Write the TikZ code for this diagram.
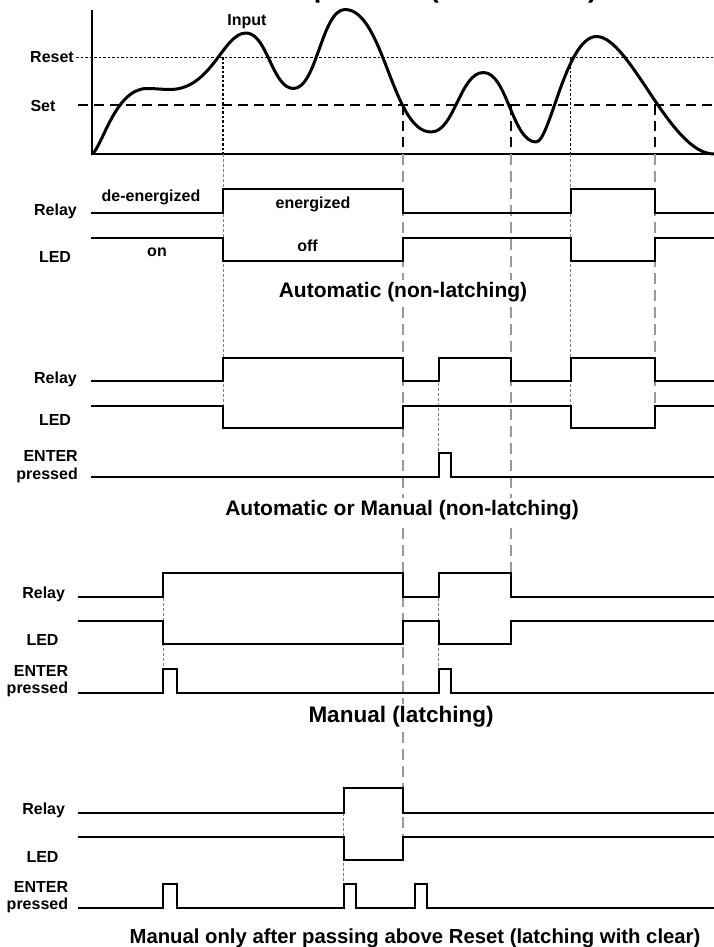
\documentclass[tikz,border=0pt]{standalone}
\usepackage{fontspec}
\setmainfont{Liberation Sans}
\begin{document}
\begin{tikzpicture}[x=1pt,y=-1pt,
  sig/.style={line width=2pt, line join=miter},
  lab/.style={font=\fontsize{16}{17.5}\selectfont\bfseries, inner sep=0pt},
  ttl/.style={font=\fontsize{21}{24}\selectfont\bfseries, fill=white, inner sep=2pt},
  rdot/.style={line width=1.3pt, dash pattern=on 2.5pt off 2pt},
  sdash/.style={line width=1.3pt, dash pattern=on 10pt off 6pt},
  gfine/.style={line width=1pt, black!50, dash pattern=on 3pt off 2pt},
  glong/.style={line width=1.2pt, black!40, dash pattern=on 11pt off 6pt},
]
\useasboundingbox (0,0) rectangle (714,947);
\clip (0,0) rectangle (714,947);
\fill[white] (0,0) rectangle (714,947);

% event times
\def\tA{223}\def\tB{403}\def\tC{438.5}\def\tD{511}\def\tE{570.6}\def\tF{655}
\def\tG{163}\def\tH{343.8}\def\tI{415.3}
\def\xR{714}

% main title (cut off at the top edge, as in the reference)
\node[anchor=base west, inner sep=0pt, font=\fontsize{27.5}{30}\selectfont\bfseries] (main) at (144,-2.5) {Low Alarm Operation (Set < Reset)};

% ---------- input graph ----------
\draw[line width=2pt] (92,10) -- (92,154) -- (\xR,154);
\draw[rdot] (76,57.5) -- (\xR,57.5);
\draw[sdash] (78,105) -- (\xR,105);
\node[lab] (reset) at (52,57.5) {Reset};
\node[lab] (set) at (43,105.5) {Set};
\node[lab] (input) at (247,22) {Input};

% vertical markers in the graph
\draw[rdot] (\tA,57.5) -- (\tA,154);
\draw[rdot] (\tE,57.5) -- (\tE,154);
\draw[sdash] (\tB,105) -- (\tB,154);
\draw[sdash] (\tD,105) -- (\tD,154);
\draw[sdash] (\tF,105) -- (\tF,154);

% grey guide lines below
\draw[gfine] (\tA,154) -- (\tA,405.7);
\draw[gfine] (\tE,154) -- (\tE,405.7);
\draw[glong] (\tB,154) -- (\tB,836.7);
\draw[glong] (\tD,154) -- (\tD,572.7);
\draw[glong] (\tF,154) -- (\tF,405.7);
\draw[gfine] (\tC,357.7) -- (\tC,453.3);
\draw[gfine] (\tG,572.7) -- (\tG,669.3);
\draw[gfine] (\tC,572.7) -- (\tC,669.3);
\draw[gfine] (\tH,788.3) -- (\tH,884.3);

% input curve
\draw[line width=3pt, line join=round, line cap=round]
  (92,154) .. controls (102,148) and (115,88.5) .. (147,88.5)
  .. controls (156,88.5) and (162,89.5) .. (170,89.5)
  .. controls (211.8,89.5) and (223.2,33) .. (246,33)
  .. controls (267.4,33) and (272.1,88.5) .. (293.5,88.5)
  .. controls (316.7,88.5) and (321.8,9.5) .. (345,9.5)
  .. controls (383.7,9.5) and (392.3,132) .. (431,132)
  .. controls (454.6,132) and (459.9,72.5) .. (483.5,72.5)
  .. controls (507,72.5) and (512.5,142) .. (536,142)
  .. controls (550,142) and (566,36.5) .. (596.5,36.5)
  .. controls (630,36.5) and (670,154) .. (714,154);

% ---------- section 1 ----------
\draw[sig] (91,213) -- (\tA,213) -- (\tA,189) -- (\tB,189) -- (\tB,213) -- (\tE,213) -- (\tE,189) -- (\tF,189) -- (\tF,213) -- (\xR,213);
\draw[sig] (91,237.5) -- (\tA,237.5) -- (\tA,260.5) -- (\tB,260.5) -- (\tB,237.5) -- (\tE,237.5) -- (\tE,260.5) -- (\tF,260.5) -- (\tF,237.5) -- (\xR,237.5);
\node[lab] (relay1) at (55.5,211.5) {Relay};
\node[lab] (led1) at (55,257) {LED};
\node[lab] (deen) at (151,197) {de-energized};
\node[lab] (en) at (313,204) {energized};
\node[lab] (on) at (157,252) {on};
\node[lab] (off) at (307.5,246) {off};
\node[ttl] (t1) at (403,292) {Automatic (non-latching)};

% ---------- section 2 ----------
\draw[sig] (91,381) -- (\tA,381) -- (\tA,357.7) -- (\tB,357.7) -- (\tB,381) -- (\tC,381) -- (\tC,357.7) -- (\tD,357.7) -- (\tD,381) -- (\tE,381) -- (\tE,357.7) -- (\tF,357.7) -- (\tF,381) -- (\xR,381);
\draw[sig] (91,405.7) -- (\tA,405.7) -- (\tA,428.3) -- (\tB,428.3) -- (\tB,405.7) -- (\tE,405.7) -- (\tE,428.3) -- (\tF,428.3) -- (\tF,405.7) -- (\xR,405.7);
\draw[sig] (91,476.7) -- (\tC,476.7) -- (\tC,453.3) -- (451,453.3) -- (451,476.7) -- (\xR,476.7);
\node[lab] (relay2) at (55.5,379) {Relay};
\node[lab] (led2) at (55,420) {LED};
\node[lab, align=right, anchor=east] (enter2) at (78,466.5) {ENTER\\pressed};
\node[ttl] (t2) at (402,510) {Automatic or Manual (non-latching)};

% ---------- section 3 ----------
\draw[sig] (78,596.7) -- (\tG,596.7) -- (\tG,572.7) -- (\tB,572.7) -- (\tB,596.7) -- (\tC,596.7) -- (\tC,572.7) -- (\tD,572.7) -- (\tD,596.7) -- (\xR,596.7);
\draw[sig] (78,621) -- (\tG,621) -- (\tG,644.3) -- (\tB,644.3) -- (\tB,621) -- (\tC,621) -- (\tC,644.3) -- (\tD,644.3) -- (\tD,621) -- (\xR,621);
\draw[sig] (78,693.3) -- (\tG,693.3) -- (\tG,669.3) -- (176.5,669.3) -- (176.5,693.3) -- (\tC,693.3) -- (\tC,669.3) -- (451,669.3) -- (451,693.3) -- (\xR,693.3);
\node[lab] (relay3) at (43.7,594) {Relay};
\node[lab] (led3) at (42.5,640) {LED};
\node[lab, align=right, anchor=east] (enter3) at (68.3,681) {ENTER\\pressed};
\node[ttl, font=\fontsize{22.5}{24}\selectfont\bfseries] (t3) at (401,717) {Manual (latching)};

% ---------- section 4 ----------
\draw[sig] (78,813.3) -- (\tH,813.3) -- (\tH,788.3) -- (\tB,788.3) -- (\tB,813.3) -- (\xR,813.3);
\draw[sig] (78,836.7) -- (\tH,836.7) -- (\tH,860) -- (\tB,860) -- (\tB,836.7) -- (\xR,836.7);
\draw[sig] (78,908.3) -- (\tG,908.3) -- (\tG,884.3) -- (176.5,884.3) -- (176.5,908.3) -- (\tH,908.3) -- (\tH,884.3) -- (355.5,884.3) -- (355.5,908.3) -- (\tI,908.3) -- (\tI,884.3) -- (427,884.3) -- (427,908.3) -- (\xR,908.3);
\node[lab] (relay4) at (43.7,810) {Relay};
\node[lab] (led4) at (42.5,856.7) {LED};
\node[lab, align=right, anchor=east] (enter4) at (68.3,897) {ENTER\\pressed};
\node[ttl, font=\fontsize{20.3}{24}\selectfont\bfseries] (t4) at (415,938) {Manual only after passing above Reset (latching with clear)};
\end{tikzpicture}
\end{document}
